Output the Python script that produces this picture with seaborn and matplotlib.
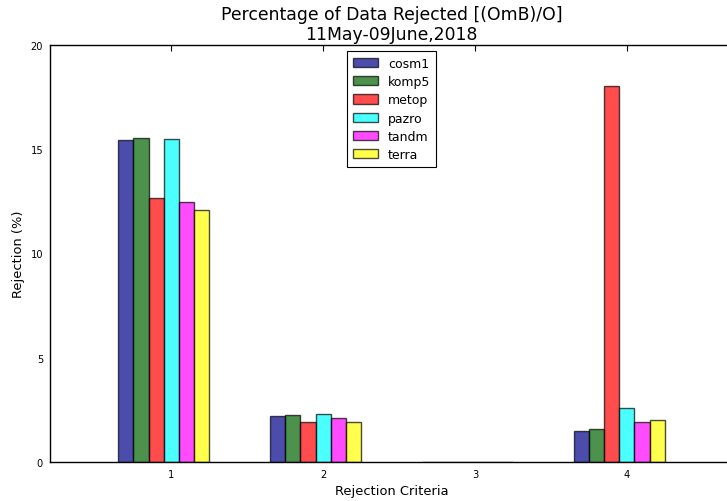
import numpy as np
import pandas as pd
import seaborn as sns
import matplotlib
matplotlib.use("Agg")
import matplotlib.pyplot as plt

criteria = [1, 2, 3, 4]
satellites = ["cosm1", "komp5", "metop", "pazro", "tandm", "terra"]
cosm1 = [15.46, 2.22, 0.0, 1.50]
komp5 = [15.55, 2.27, 0.0, 1.58]
metop = [12.65, 1.90, 0.0, 18.02]
pazro = [15.47, 2.29, 0.0, 2.57]
tandm = [12.45, 2.10, 0.0, 1.93]
terra = [12.07, 1.92, 0.0, 2.01]
colors = ["darkblue", "darkgreen", "red", "cyan", "magenta", "yellow"]
offsets = [-0.3, -0.2, -0.1, 0.0, 0.1, 0.2]

series = [cosm1, komp5, metop, pazro, tandm, terra]
rows = []
for name, vals, off in zip(satellites, series, offsets):
    for c, v in zip(criteria, vals):
        rows.append({"pos": round(c + off, 2), "value": v, "sat": name})
df = pd.DataFrame(rows)

sns.set_style("white")
plt.rcParams["font.family"] = ["DejaVu Sans"]
plt.rcParams["text.color"] = "black"
plt.rcParams["axes.labelcolor"] = "black"
plt.rcParams["xtick.color"] = "black"
plt.rcParams["ytick.color"] = "black"

fig = plt.figure(figsize=(7.27, 5.02), dpi=100)
ax = fig.add_axes([50/727, 1-463/502, 683/727, 417/502])

sns.barplot(data=df, x="pos", y="value", hue="sat", hue_order=satellites,
            palette=dict(zip(satellites, colors)), native_scale=True,
            dodge=False, width=1.0, alpha=0.7, edgecolor="black",
            linewidth=1.0, errorbar=None, saturation=1, ax=ax)

ax.set_xlim(0.2, 4.7)
ax.set_ylim(0, 20)
ax.set_xticks(criteria)
ax.set_xticklabels([str(c) for c in criteria])
ax.set_yticks([0, 5, 10, 15, 20])
ax.tick_params(direction="in", top=True, right=True, labelsize=7.1,
               length=4, width=0.8, colors="black", pad=5)
for s in ax.spines.values():
    s.set_color("black")
    s.set_linewidth(1.0)

ax.set_xlabel("Rejection Criteria", fontsize=9.4)
ax.set_ylabel("Rejection (%)", fontsize=9.4)
ax.set_title("Percentage of Data Rejected [(OmB)/O]\n11May-09June,2018",
             fontsize=12.4, pad=4)

leg = ax.legend(loc="upper center", fontsize=9, frameon=True, fancybox=False,
                edgecolor="black", framealpha=1, borderpad=0.45,
                labelspacing=0.42, handlelength=2.0, handletextpad=0.8,
                handleheight=0.75, borderaxespad=0.5)
leg.get_frame().set_linewidth(0.8)

fig.savefig("out.png", dpi=100)
